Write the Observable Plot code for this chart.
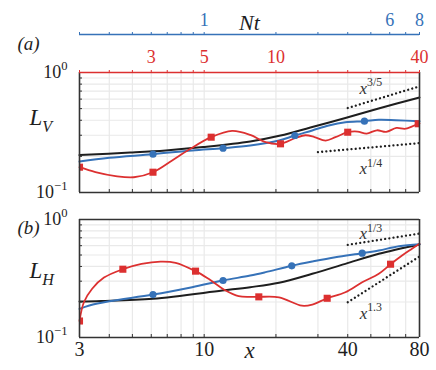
<!DOCTYPE html>
<html>
<head>
<meta charset="utf-8">
<script src="https://cdn.jsdelivr.net/npm/d3@7"></script>
<script src="https://cdn.jsdelivr.net/npm/@observablehq/plot@0.6"></script>
<style>
  html, body { margin: 0; padding: 0; background: white; }
  #fig { position: relative; width: 436px; height: 370px; background: white; overflow: hidden; }
  #fig svg { position: absolute; left: 0; }
</style>
</head>
<body>
<div id="fig"></div>
<script>
// ---------- data ----------
const xTicks = [3, 4, 5, 6, 7, 8, 9, 10, 20, 30, 40, 50, 60, 70, 80];
const yTicks = [0.1, 0.2, 0.3, 0.4, 0.5, 0.6, 0.7, 0.8, 0.9, 1];
const yLabelValues = [0.1, 1];
const yLabels = ["10^\u22121", "10^0"];
const xLabelValues = [3, 10, 40, 80];
const xLabels = ["3", "10", "40", "80"];
// top axes: red (x/2) and blue Nt (x/10), positioned on the x scale
const redTickX = [6, 10, 20, 80];
const redTickLabels = ["3", "5", "10", "40"];
const ntTickX = [10, 60, 80];
const ntTickLabels = ["1", "6", "8"];

// panel (a): L_V
const blackA = [[3,0.205],[4.9,0.215],[6.9,0.224],[9.9,0.239],[15.6,0.266],[20.9,0.298],[27.9,0.348],[39.1,0.418],[53.9,0.501],[80,0.619]];
const blueA = [[3,0.181],[4,0.195],[6.1,0.2085],[8.9,0.224],[12,0.234],[15.6,0.246],[20.6,0.271],[24,0.2985],[28.4,0.329],[33.3,0.362],[39.1,0.385],[47,0.393],[54,0.403],[63.5,0.400],[80,0.393]];
const blueAMarks = [[6.1,0.2085],[12,0.234],[24,0.2985],[47,0.393]];
const redA = [[3,0.1625],[3.5,0.148],[4.25,0.137],[5.07,0.134],[6.1,0.1476],[7.34,0.185],[8.62,0.227],[10.7,0.289],[13.1,0.326],[15.6,0.302],[18.1,0.2625],[20.9,0.2545],[24.2,0.285],[26.6,0.300],[29,0.29],[32.3,0.271],[35.5,0.289],[40,0.318],[44,0.322],[48,0.31],[53,0.33],[58,0.32],[64,0.345],[70,0.34],[79,0.374],[80,0.376]];
const redAMarks = [[3,0.1625],[6.1,0.1476],[10.7,0.289],[20.9,0.2545],[40,0.318],[79,0.374]];
const slope35 = [[40,0.506],[80,0.767]];
const slope14 = [[30,0.217],[80,0.258]];
const annA = [{x: 50, y: 0.74, t: "x^3/5"}, {x: 50, y: 0.158, t: "x^1/4"}];

// panel (b): L_H
const blackB = [[3,0.202],[3.7,0.204],[6.1,0.213],[11.9,0.250],[15.6,0.267],[20.6,0.291],[28.4,0.347],[39.1,0.421],[54,0.512],[80,0.614]];
const blueB = [[3,0.175],[3.3,0.187],[4,0.203],[6.1,0.231],[8.9,0.267],[12,0.304],[15.6,0.335],[18.1,0.358],[23.3,0.405],[28.4,0.44],[35.5,0.479],[46,0.518],[54,0.546],[65.6,0.594],[80,0.6175]];
const blueBMarks = [[6.1,0.231],[12,0.304],[23.3,0.405],[46,0.518]];
const redB = [[3,0.138],[3.13,0.199],[3.39,0.259],[3.8,0.322],[4.56,0.379],[5.46,0.42],[6.56,0.44],[7.59,0.43],[9.2,0.365],[10.43,0.314],[12.3,0.25],[13.95,0.224],[15.6,0.221],[16.95,0.221],[20.6,0.219],[25.7,0.186],[28.4,0.19],[32.8,0.215],[39.1,0.242],[46,0.294],[54,0.347],[60.5,0.418],[67.6,0.4955],[74.4,0.565],[80,0.6225]];
const redBMarks = [[3,0.138],[4.56,0.379],[9.2,0.365],[16.95,0.221],[32.8,0.215],[60.5,0.418]];
const slope13 = [[40,0.61],[80,0.76]];
const slope130 = [[40,0.199],[80,0.486]];
const annB = [{x: 50, y: 0.76, t: "x^1/3"}, {x: 50, y: 0.16, t: "x^1.3"}];

// ---------- style ----------
const BLUE = "#3672b8", RED = "#dc3030", BLACK = "#1e1e1e", GRID = "#e9e9e9";
const SERIF = "Liberation Serif, DejaVu Serif, serif";
const W = 436, ML = 79, MR = 17;
const lookup = (xs, labels) => d => { const i = xs.indexOf(d); return i < 0 ? "" : labels[i]; };
const pairs = (xs, labels) => xs.map((x, i) => ({x, label: labels[i]}));
const dotted = {stroke: BLACK, strokeWidth: 2.3, strokeLinecap: "round", strokeDasharray: "0.01,4.2"};

function panelMarks(series, topColor) {
  const [blk, blu, bluM, rd, rdM, s1, s2, ann] = series;
  return [
    Plot.gridX(xTicks, {stroke: GRID, strokeOpacity: 1, strokeWidth: 1.2}),
    Plot.gridY(yTicks, {stroke: GRID, strokeOpacity: 1, strokeWidth: 1.2}),
    Plot.line(s1, dotted),
    Plot.line(s2, dotted),
    Plot.text(ann, {x: "x", y: "y", text: "t", fontStyle: "italic", fontSize: 17, fill: "#333", fontFamily: SERIF}),
    Plot.line(blk, {stroke: BLACK, strokeWidth: 2, curve: "catmull-rom"}),
    Plot.line(blu, {stroke: BLUE, strokeWidth: 2, curve: "catmull-rom"}),
    Plot.line(rd, {stroke: RED, strokeWidth: 1.8, curve: "catmull-rom"}),
    Plot.dot(bluM, {fill: BLUE, r: 3.6}),
    Plot.dot(rdM, {fill: RED, r: 4, symbol: "square", clip: "frame"}),
    Plot.axisY(yTicks, {anchor: "left", tickSize: -3, tickFormat: () => "", label: null, stroke: "#333"}),
    Plot.axisX(xTicks, {anchor: "bottom", tickSize: -3, tickFormat: () => "", label: null, stroke: "#333"}),
    Plot.axisY(yLabelValues, {anchor: "left", tickSize: 0, tickPadding: 12, tickFormat: lookup(yLabelValues, yLabels), fontSize: 18, label: null, fill: BLACK, fontFamily: SERIF}),
    Plot.ruleX([3, 80], {stroke: "#333", strokeWidth: 1.6}),
    Plot.ruleY([0.1], {stroke: "#333", strokeWidth: 1.6}),
    Plot.ruleY([1], {stroke: topColor, strokeWidth: 1.6})
  ];
}

function mk(opts) {
  return Plot.plot({
    width: W, marginLeft: ML, marginRight: MR,
    style: {background: "transparent", fontFamily: SERIF, fontSize: "18px", color: BLACK, overflow: "visible"},
    x: {type: "log", domain: [3, 80], axis: null},
    ...opts
  });
}

// Panel (a)
const svgA = mk({
  height: 200, marginTop: 72, marginBottom: 8,
  y: {type: "log", domain: [0.1, 1], axis: null},
  marks: [
    ...panelMarks([blackA, blueA, blueAMarks, redA, redAMarks, slope35, slope14, annA], RED),
    Plot.axisX(xTicks, {anchor: "top", tickSize: 3, color: RED, label: null, tickFormat: () => ""}),
    Plot.text(pairs(redTickX, redTickLabels), {x: "x", text: "label", frameAnchor: "top", dy: -22, fill: RED, fontSize: 18, fontFamily: SERIF}),
    Plot.text(["(a)"], {frameAnchor: "top-left", dx: -62, dy: -36, fontStyle: "italic", fontSize: 19, fill: BLACK, fontFamily: SERIF}),
    Plot.text(["L_V"], {frameAnchor: "left", dx: -50, dy: -15, fontStyle: "italic", fontSize: 23, fill: BLACK, fontFamily: SERIF})
  ]
});

// Top Nt axis
const svgN = mk({
  height: 41, marginTop: 34, marginBottom: 6,
  y: {domain: [0, 1], axis: null},
  marks: [
    Plot.ruleY([1], {stroke: BLUE, strokeWidth: 1.6}),
    Plot.axisX(xTicks, {anchor: "top", tickSize: 3, color: BLUE, label: null, tickFormat: () => ""}),
    Plot.text(pairs(ntTickX, ntTickLabels), {x: "x", text: "label", frameAnchor: "top", dy: -21, fill: BLUE, fontSize: 18, fontFamily: SERIF}),
    Plot.text(["Nt"], {frameAnchor: "top", dy: -20, fontStyle: "italic", fontSize: 22, fill: BLACK, fontFamily: SERIF})
  ]
});

// Panel (b)
const svgB = mk({
  height: 170, marginTop: 19, marginBottom: 33,
  y: {type: "log", domain: [0.1, 1], axis: null},
  marks: [
    ...panelMarks([blackB, blueB, blueBMarks, redB, redBMarks, slope13, slope130, annB], "#333"),
    Plot.text(pairs(xLabelValues, xLabels), {x: "x", text: "label", frameAnchor: "bottom", dy: 18, fill: BLACK, fontSize: 20, fontFamily: SERIF}),
    Plot.text(["x"], {frameAnchor: "bottom", dy: 20, fontStyle: "italic", fontSize: 23, fill: BLACK, fontFamily: SERIF}),
    Plot.text(["(b)"], {frameAnchor: "top-left", dx: -62, dy: 1, fontStyle: "italic", fontSize: 19, fill: BLACK, fontFamily: SERIF}),
    Plot.text(["L_H"], {frameAnchor: "left", dx: -50, dy: -8, fontStyle: "italic", fontSize: 23, fill: BLACK, fontFamily: SERIF})
  ]
});

// superscript / subscript rendering as real text tspans
function rich(svg) {
  const ns = "http://www.w3.org/2000/svg";
  for (const t of svg.querySelectorAll("text")) {
    if (t.querySelector("tspan")) continue;
    const m = /^([^\^_]*)([\^_])(.+)$/.exec(t.textContent);
    if (!m) continue;
    const [, base, op, scr] = m;
    t.textContent = "";
    const a = document.createElementNS(ns, "tspan");
    a.textContent = base;
    t.appendChild(a);
    const b = document.createElementNS(ns, "tspan");
    b.setAttribute("font-size", "0.7em");
    if (op === "^") { b.setAttribute("dy", "-0.62em"); b.setAttribute("font-style", "normal"); }
    else b.setAttribute("dy", "0.42em");
    b.textContent = scr;
    t.appendChild(b);
  }
}

const fig = document.getElementById("fig");
[[svgA, 0], [svgB, 200], [svgN, 0]].forEach(([s, top]) => {
  rich(s);
  s.style.top = top + "px";
  fig.appendChild(s);
});
</script>
</body>
</html>
